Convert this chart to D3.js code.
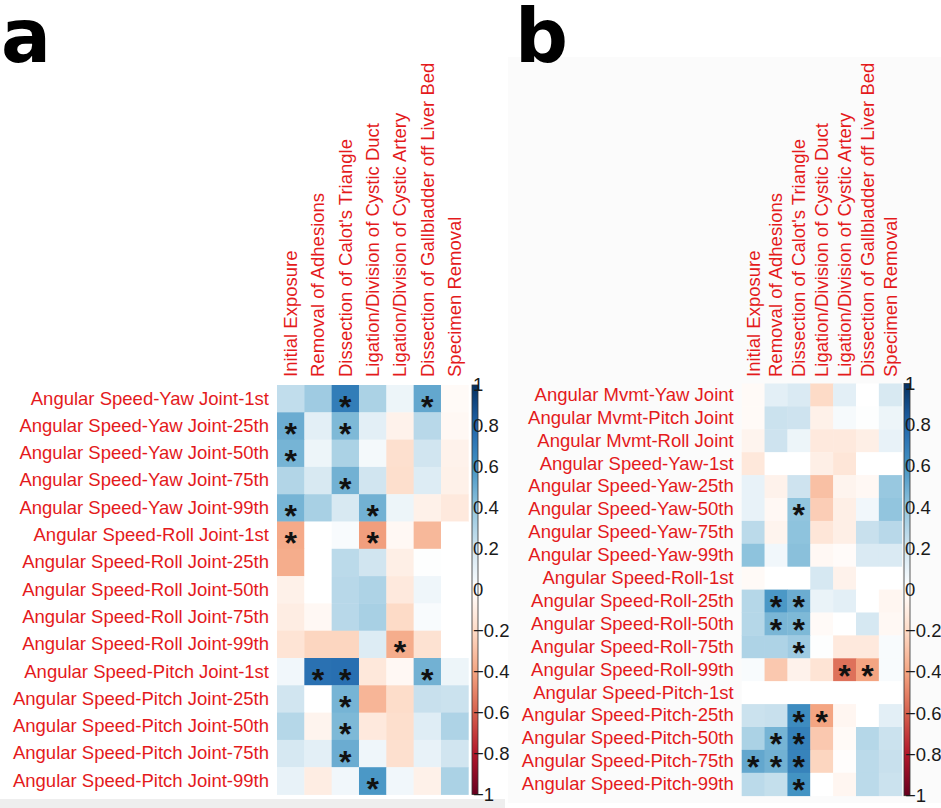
<!DOCTYPE html>
<html>
<head>
<meta charset="utf-8">
<script src="https://cdn.jsdelivr.net/npm/d3@7"></script>
<style>
  html, body { margin: 0; padding: 0; background: #fff; }
  svg { display: block; }
</style>
</head>
<body>
<div id="chart"></div>
<script>
// surgical phases (columns, same for both panels)
const phases = [
    'Initial Exposure',
    'Removal of Adhesions',
    "Dissection of Calot's Triangle",
    'Ligation/Division of Cystic Duct',
    'Ligation/Division of Cystic Artery',
    'Dissection of Gallbladder off Liver Bed',
    'Specimen Removal'
];

// panel a rows
const rowsA = [
    'Angular Speed-Yaw Joint-1st', 'Angular Speed-Yaw Joint-25th', 'Angular Speed-Yaw Joint-50th',
    'Angular Speed-Yaw Joint-75th', 'Angular Speed-Yaw Joint-99th',
    'Angular Speed-Roll Joint-1st', 'Angular Speed-Roll Joint-25th', 'Angular Speed-Roll Joint-50th',
    'Angular Speed-Roll Joint-75th', 'Angular Speed-Roll Joint-99th',
    'Angular Speed-Pitch Joint-1st', 'Angular Speed-Pitch Joint-25th', 'Angular Speed-Pitch Joint-50th',
    'Angular Speed-Pitch Joint-75th', 'Angular Speed-Pitch Joint-99th'
];

// panel a correlations (row by row, one value per phase)
const valuesA = [
    [0.25, 0.36, 0.70, 0.32, 0.08, 0.52, -0.03],
    [0.50, 0.12, 0.45, 0.12, -0.07, 0.28, -0.04],
    [0.47, 0.08, 0.32, 0.05, -0.17, 0.20, -0.07],
    [0.30, 0.17, 0.48, 0.20, -0.18, 0.15, -0.08],
    [0.47, 0.33, 0.17, 0.48, 0.08, -0.08, -0.12],
    [-0.38, 0.00, 0.03, -0.42, -0.04, -0.33, 0.00],
    [-0.37, 0.00, 0.27, 0.20, -0.09, 0.01, 0.00],
    [-0.08, 0.00, 0.28, 0.31, -0.12, 0.07, 0.00],
    [-0.10, -0.04, 0.28, 0.33, -0.20, 0.03, 0.00],
    [-0.15, -0.22, -0.22, 0.15, -0.37, -0.16, 0.00],
    [0.06, 0.75, 0.76, -0.13, -0.04, 0.48, 0.08],
    [0.20, 0.00, 0.47, -0.34, -0.19, 0.23, 0.22],
    [0.29, -0.06, 0.45, -0.12, -0.18, 0.14, 0.31],
    [0.18, 0.12, 0.50, 0.07, -0.17, 0.10, 0.20],
    [0.10, -0.10, 0.06, 0.58, 0.06, -0.08, 0.32]
];

// panel a significance (1 = asterisk)
const sigA = [
    [0, 0, 1, 0, 0, 1, 0],
    [1, 0, 1, 0, 0, 0, 0],
    [1, 0, 0, 0, 0, 0, 0],
    [0, 0, 1, 0, 0, 0, 0],
    [1, 0, 0, 1, 0, 0, 0],
    [1, 0, 0, 1, 0, 0, 0],
    [0, 0, 0, 0, 0, 0, 0],
    [0, 0, 0, 0, 0, 0, 0],
    [0, 0, 0, 0, 0, 0, 0],
    [0, 0, 0, 0, 1, 0, 0],
    [0, 1, 1, 0, 0, 1, 0],
    [0, 0, 1, 0, 0, 0, 0],
    [0, 0, 1, 0, 0, 0, 0],
    [0, 0, 1, 0, 0, 0, 0],
    [0, 0, 0, 1, 0, 0, 0]
];

// panel b rows
const rowsB = [
    'Angular Mvmt-Yaw Joint', 'Angular Mvmt-Pitch Joint', 'Angular Mvmt-Roll Joint',
    'Angular Speed-Yaw-1st', 'Angular Speed-Yaw-25th', 'Angular Speed-Yaw-50th',
    'Angular Speed-Yaw-75th', 'Angular Speed-Yaw-99th',
    'Angular Speed-Roll-1st', 'Angular Speed-Roll-25th', 'Angular Speed-Roll-50th',
    'Angular Speed-Roll-75th', 'Angular Speed-Roll-99th',
    'Angular Speed-Pitch-1st', 'Angular Speed-Pitch-25th', 'Angular Speed-Pitch-50th',
    'Angular Speed-Pitch-75th', 'Angular Speed-Pitch-99th'
];

const valuesB = [
    [-0.03, 0.12, 0.16, -0.20, 0.12, 0.00, 0.17],
    [-0.03, 0.22, 0.21, -0.08, 0.04, 0.01, 0.08],
    [-0.06, 0.21, 0.08, -0.12, -0.12, -0.09, 0.10],
    [-0.13, 0.00, 0.00, -0.09, -0.14, 0.00, 0.00],
    [0.10, -0.07, 0.21, -0.30, -0.06, -0.04, 0.38],
    [0.10, -0.04, 0.40, -0.25, -0.09, 0.06, 0.40],
    [0.27, -0.06, 0.41, -0.14, -0.09, 0.23, 0.28],
    [0.41, 0.06, 0.42, -0.04, -0.02, 0.16, 0.16],
    [-0.03, 0.00, 0.00, 0.18, -0.07, 0.00, 0.00],
    [0.29, 0.58, 0.50, 0.09, 0.12, 0.00, -0.05],
    [0.29, 0.46, 0.45, -0.03, 0.00, 0.18, -0.04],
    [0.31, 0.31, 0.36, 0.01, -0.12, -0.12, 0.03],
    [0.03, -0.27, -0.07, -0.15, -0.55, -0.40, 0.03],
    [0.00, 0.00, 0.00, 0.00, 0.00, 0.00, 0.00],
    [0.22, 0.23, 0.63, -0.40, -0.05, 0.00, 0.12],
    [0.32, 0.47, 0.68, -0.27, -0.03, 0.29, 0.22],
    [0.52, 0.48, 0.67, -0.22, -0.01, 0.27, 0.23],
    [0.27, 0.24, 0.60, 0.00, -0.05, 0.27, 0.22]
];

const sigB = [
    [0, 0, 0, 0, 0, 0, 0],
    [0, 0, 0, 0, 0, 0, 0],
    [0, 0, 0, 0, 0, 0, 0],
    [0, 0, 0, 0, 0, 0, 0],
    [0, 0, 0, 0, 0, 0, 0],
    [0, 0, 1, 0, 0, 0, 0],
    [0, 0, 0, 0, 0, 0, 0],
    [0, 0, 0, 0, 0, 0, 0],
    [0, 0, 0, 0, 0, 0, 0],
    [0, 1, 1, 0, 0, 0, 0],
    [0, 1, 1, 0, 0, 0, 0],
    [0, 0, 1, 0, 0, 0, 0],
    [0, 0, 0, 0, 1, 1, 0],
    [0, 0, 0, 0, 0, 0, 0],
    [0, 0, 1, 1, 0, 0, 0],
    [0, 1, 1, 0, 0, 0, 0],
    [1, 1, 1, 0, 0, 0, 0],
    [0, 0, 1, 0, 0, 0, 0]
];

const colorbarTicks = [1, 0.8, 0.6, 0.4, 0.2, 0, -0.2, -0.4, -0.6, -0.8, -1];

const W = 941, H = 808;
const labelRed = '#e41a1c';
const font = '"Liberation Sans", Arial, sans-serif';

// RdBu with pure white in the middle
const rdbu = ['#67001f', '#b2182b', '#d6604d', '#f4a582', '#fddbc7', '#ffffff',
              '#d1e5f0', '#92c5de', '#4393c3', '#2166ac', '#053061'];
const color = d3.scaleLinear()
    .domain(d3.range(11).map(i => -1 + i * 0.2))
    .range(rdbu)
    .interpolate(d3.interpolateRgb)
    .clamp(true);

const svg = d3.select('#chart').append('svg')
    .attr('width', W)
    .attr('height', H);

// faint screenshot backdrops
svg.append('rect').attr('x', 508).attr('y', 57).attr('width', W - 508).attr('height', 746).attr('fill', '#fbfbfb');
svg.append('rect').attr('x', 0).attr('y', 799).attr('width', 505).attr('height', 9).attr('fill', '#eeeeee');

const defs = svg.append('defs');

function drawPanel(cfg) {
    const { id, rows, values, sig, x0, x1, y0, y1, cbX, cbW, colGap, starDy, letter, letterX } = cfg;

    const g = svg.append('g').attr('class', 'panel-' + id);

    const x = d3.scaleBand().domain(phases).range([x0, x1]);
    const y = d3.scaleBand().domain(rows).range([y0, y1]);

    const cells = [];
    rows.forEach((r, i) => phases.forEach((p, j) => {
        cells.push({ row: r, col: p, value: values[i][j], sig: sig[i][j] });
    }));

    g.selectAll('.cell')
        .data(cells)
        .enter()
        .append('rect')
        .attr('class', 'cell')
        .attr('x', d => x(d.col))
        .attr('y', d => y(d.row))
        .attr('width', x.bandwidth() + 0.4)
        .attr('height', y.bandwidth() + 0.4)
        .attr('fill', d => color(d.value));

    // asterisks for significant cells
    const starSize = 32;
    g.selectAll('.star')
        .data(cells.filter(d => d.sig))
        .enter()
        .append('text')
        .attr('class', 'star')
        .attr('x', d => x(d.col) + x.bandwidth() / 2)
        .attr('y', d => y(d.row) + y.bandwidth() / 2 + starDy)
        .attr('text-anchor', 'middle')
        .style('font-family', font)
        .style('font-weight', 'bold')
        .style('font-size', starSize + 'px')
        .attr('fill', '#111')
        .text('*');

    // row labels
    const yAxis = g.append('g')
        .attr('transform', `translate(${x0},0)`)
        .call(d3.axisLeft(y).tickSize(0).tickPadding(8));
    yAxis.select('.domain').remove();
    yAxis.selectAll('text')
        .style('font-family', font)
        .style('font-size', '18.5px')
        .attr('fill', labelRed);

    // column labels, rotated
    const xAxis = g.append('g')
        .attr('transform', `translate(0,${y0})`)
        .call(d3.axisTop(x).tickSize(0));
    xAxis.select('.domain').remove();
    xAxis.selectAll('text')
        .attr('transform', 'rotate(-90)')
        .attr('x', colGap)
        .attr('y', 0)
        .attr('dy', '0.35em')
        .style('text-anchor', 'start')
        .style('font-family', font)
        .style('font-size', '18.5px')
        .attr('fill', labelRed);

    // colorbar
    const cbScale = d3.scaleLinear().domain([-1, 1]).range([y1, y0]);
    const grad = defs.append('linearGradient')
        .attr('id', 'cb-' + id)
        .attr('x1', 0).attr('x2', 0).attr('y1', 1).attr('y2', 0);
    grad.selectAll('stop')
        .data(d3.range(0, 1.0001, 0.05))
        .enter()
        .append('stop')
        .attr('offset', d => d)
        .attr('stop-color', d => color(-1 + 2 * d));

    g.append('rect')
        .attr('x', cbX)
        .attr('y', y0)
        .attr('width', cbW)
        .attr('height', y1 - y0)
        .attr('fill', `url(#cb-${id})`)
        .attr('stroke', '#333')
        .attr('stroke-width', 0.8);

    const cbAxis = g.append('g')
        .attr('transform', `translate(${cbX + cbW - 5},0)`)
        .call(d3.axisRight(cbScale).tickValues(colorbarTicks).tickSize(0).tickPadding(0)
            .tickFormat(d => d === 0 ? '0' : d3.format('')(d)));
    cbAxis.select('.domain').remove();
    cbAxis.selectAll('text')
        .style('font-family', font)
        .style('font-size', '18.5px')
        .attr('fill', '#1a1a1a');

    // panel letter
    svg.append('text')
        .attr('x', letterX)
        .attr('y', 62)
        .style('font-family', '"DejaVu Sans", sans-serif')
        .style('font-weight', 'bold')
        .style('font-size', '74px')
        .attr('fill', '#000')
        .text(letter);
}

drawPanel({
    id: 'a', rows: rowsA, values: valuesA, sig: sigA,
    x0: 277, x1: 468.3, y0: 385, y1: 794.5,
    cbX: 472, cbW: 6, colGap: 8, starDy: 19, letter: 'a', letterX: 1
});

drawPanel({
    id: 'b', rows: rowsB, values: valuesB, sig: sigB,
    x0: 741.7, x1: 901.7, y0: 383.5, y1: 795.7,
    cbX: 904, cbW: 6, colGap: 6.5, starDy: 17, letter: 'b', letterX: 515
});
</script>
</body>
</html>
